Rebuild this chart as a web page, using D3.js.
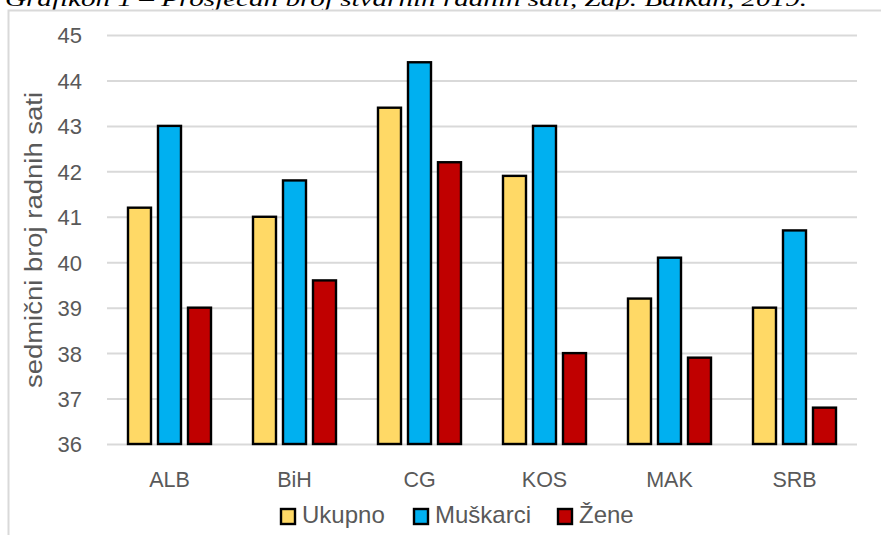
<!DOCTYPE html>
<html><head><meta charset="utf-8">
<script src="https://cdn.jsdelivr.net/npm/d3@7"></script>
<style>body{margin:0;background:#fff}svg{display:block}</style>
</head><body>
<script>
const categories = ["ALB","BiH","CG","KOS","MAK","SRB"];
const seriesNames = ["Ukupno","Muškarci","Žene"];
const ukupno   = [41.2, 41.0, 43.4, 41.9, 39.2, 39.0];
const muskarci = [43.0, 41.8, 44.4, 43.0, 40.1, 40.7];
const zene     = [39.0, 39.6, 42.2, 38.0, 37.9, 36.8];
const yTicks = [36,37,38,39,40,41,42,43,44,45];
const colors = ["#FFD966","#00B0F0","#C00000"];
const caption = "Grafikon 1 – Prosječan broj stvarnih radnih sati, Zap. Balkan, 2019.";
const yTitle = "sedmični broj radnih sati";

const W=881,H=535;
const svg=d3.select("body").append("svg").attr("width",W).attr("height",H);
const font="'Liberation Sans', Arial, sans-serif";
const grey="#595959";

svg.append("text").attr("x",5).attr("y",6).attr("textLength",802).attr("lengthAdjust","spacingAndGlyphs")
  .style("font-family","'Liberation Serif', serif").style("font-style","italic").style("font-size","21px").attr("fill","#000").text(caption);

svg.append("rect").attr("x",8.5).attr("y",10.5).attr("width",W).attr("height",H).attr("fill","none").attr("stroke","#D9D9D9").attr("stroke-width",2);

const x0=d3.scaleBand().domain(categories).range([107,857]);
const x1=d3.scaleBand().domain(seriesNames).range([20,105]).paddingInner(1/6);
const y=d3.scaleLinear().domain([36,45]).range([444,35]);

const yAxis=svg.append("g").attr("transform","translate(107,0)")
  .call(d3.axisLeft(y).tickValues(yTicks).tickSize(-750).tickPadding(25).tickFormat(d3.format("d")));
yAxis.select(".domain").remove();
yAxis.selectAll(".tick line").attr("stroke","#D9D9D9").attr("stroke-width",2);
yAxis.selectAll(".tick text").attr("fill",grey).style("font-family",font).style("font-size","22px").attr("dy","0.36em");

const data=categories.map((c,i)=>({c,vals:[ukupno[i],muskarci[i],zene[i]]}));
const g=svg.append("g");
data.forEach(d=>{
  d.vals.forEach((v,j)=>{
    g.append("rect").attr("x",x0(d.c)+x1(seriesNames[j])+1).attr("width",x1.bandwidth()-2)
     .attr("y",y(v)).attr("height",y(36)-y(v)).attr("fill",colors[j]).attr("stroke","#000").attr("stroke-width",2.4);
  });
});

const xAxis=svg.append("g").attr("transform","translate(0,444)")
  .call(d3.axisBottom(x0).tickSize(0).tickPadding(28));
xAxis.select(".domain").remove();
xAxis.selectAll(".tick text").attr("fill",grey).style("font-family",font).style("font-size","21.5px");

svg.append("text").attr("transform","translate(42,240) rotate(-90)").attr("text-anchor","middle")
  .attr("textLength",296).attr("lengthAdjust","spacingAndGlyphs")
  .attr("fill",grey).style("font-family",font).style("font-size","23px").text(yTitle);

const legX=[281,414,558];
seriesNames.forEach((s,j)=>{
  svg.append("rect").attr("x",legX[j]).attr("y",509).attr("width",14).attr("height",15).attr("fill",colors[j]).attr("stroke","#000").attr("stroke-width",2.4);
  svg.append("text").attr("x",legX[j]+21).attr("y",523).attr("fill",grey).style("font-family",font).style("font-size","24px").text(s);
});
</script>
</body></html>
